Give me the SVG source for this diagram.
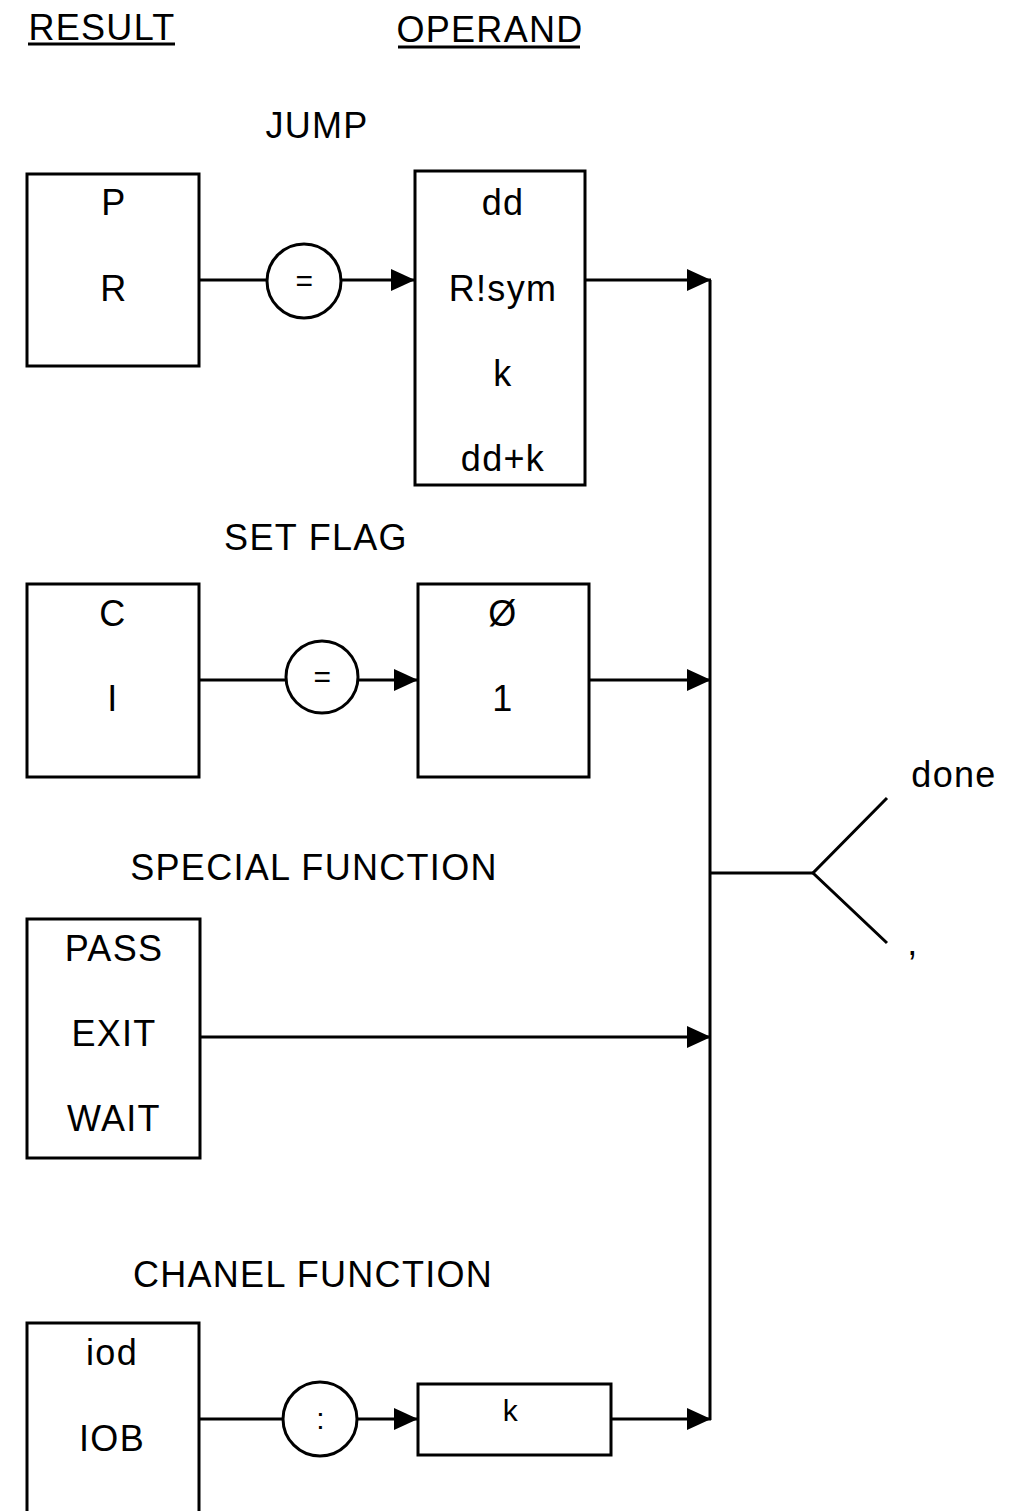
<svg xmlns="http://www.w3.org/2000/svg" width="1013" height="1511" viewBox="0 0 1013 1511">
<style>
text{font-family:"Liberation Sans",Arial,sans-serif;fill:#000;text-anchor:middle;letter-spacing:1.3px}
.h{font-size:36px}
.t{font-size:36px}
.box{fill:none;stroke:#000;stroke-width:3}
.ln{fill:none;stroke:#000;stroke-width:3}
.c{fill:#fff;stroke:#000;stroke-width:3}
</style>
<defs>
<marker id="ah" markerUnits="userSpaceOnUse" markerWidth="26" markerHeight="24" refX="24" refY="12" orient="auto">
<path d="M0,1 L24,12 L0,23 Z" fill="#000"/>
</marker>
</defs>
<rect width="1013" height="1511" fill="#fff"/>
<g id="headings">
<text class="h" x="102" y="40">RESULT</text>
<line class="ln" x1="28" y1="44" x2="175" y2="44"/>
<text class="h" x="490" y="42">OPERAND</text>
<line class="ln" x1="398" y1="47" x2="580" y2="47"/>
<text class="h" x="317" y="138">JUMP</text>
<text class="h" x="316" y="550">SET FLAG</text>
<text class="h" x="314" y="880">SPECIAL FUNCTION</text>
<text class="h" x="313" y="1287">CHANEL FUNCTION</text>
</g>
<g id="connectors">
<line class="ln" x1="199" y1="280" x2="266" y2="280"/>
<line class="ln" x1="341" y1="280" x2="415" y2="280" marker-end="url(#ah)"/>
<line class="ln" x1="585" y1="280" x2="711" y2="280" marker-end="url(#ah)"/>
<line class="ln" x1="199" y1="680" x2="286" y2="680"/>
<line class="ln" x1="358" y1="680" x2="418" y2="680" marker-end="url(#ah)"/>
<line class="ln" x1="589" y1="680" x2="711" y2="680" marker-end="url(#ah)"/>
<line class="ln" x1="200" y1="1037" x2="711" y2="1037" marker-end="url(#ah)"/>
<line class="ln" x1="199" y1="1419" x2="283" y2="1419"/>
<line class="ln" x1="357" y1="1419" x2="418" y2="1419" marker-end="url(#ah)"/>
<line class="ln" x1="611" y1="1419" x2="711" y2="1419" marker-end="url(#ah)"/>
<line class="ln" x1="710" y1="280" x2="710" y2="1420"/>
<line class="ln" x1="710" y1="873" x2="813" y2="873"/>
<polyline class="ln" points="887,798 813,873 887,943"/>
</g>
<g id="done"><text class="t" x="954" y="787">done</text></g>
<g id="comma"><text class="t" x="913" y="955">,</text></g>
<g id="jump-result">
<rect class="box" x="27" y="174" width="172" height="192"/>
<text class="t" x="114" y="215">P</text>
<text class="t" x="114" y="301">R</text>
</g>
<g id="jump-eq">
<circle class="c" cx="304" cy="281" r="37"/>
<text class="t" x="305" y="291" style="font-size:30px">=</text>
</g>
<g id="jump-operand">
<rect class="box" x="415" y="171" width="170" height="314"/>
<text class="t" x="503" y="215">dd</text>
<text class="t" x="503" y="301">R!sym</text>
<text class="t" x="503" y="386">k</text>
<text class="t" x="503" y="471">dd+k</text>
</g>
<g id="flag-result">
<rect class="box" x="27" y="584" width="172" height="193"/>
<text class="t" x="113" y="626">C</text>
<text class="t" x="113" y="711">I</text>
</g>
<g id="flag-eq">
<circle class="c" cx="322" cy="677" r="36"/>
<text class="t" x="323" y="687" style="font-size:30px">=</text>
</g>
<g id="flag-operand">
<rect class="box" x="418" y="584" width="171" height="193"/>
<text class="t" x="503" y="626">Ø</text>
<text class="t" x="503" y="711">1</text>
</g>
<g id="special-result">
<rect class="box" x="27" y="919" width="173" height="239"/>
<text class="t" x="114" y="961">PASS</text>
<text class="t" x="114" y="1046">EXIT</text>
<text class="t" x="114" y="1131">WAIT</text>
</g>
<g id="chanel-result">
<rect class="box" x="27" y="1323" width="172" height="200"/>
<text class="t" x="112" y="1365">iod</text>
<text class="t" x="112" y="1451">IOB</text>
</g>
<g id="chanel-colon">
<circle class="c" cx="320" cy="1419" r="37"/>
<text class="t" x="321" y="1429" style="font-size:30px">:</text>
</g>
<g id="chanel-operand">
<rect class="box" x="418" y="1384" width="193" height="71"/>
<text class="t" x="511" y="1421" style="font-size:30px">k</text>
</g>
</svg>
